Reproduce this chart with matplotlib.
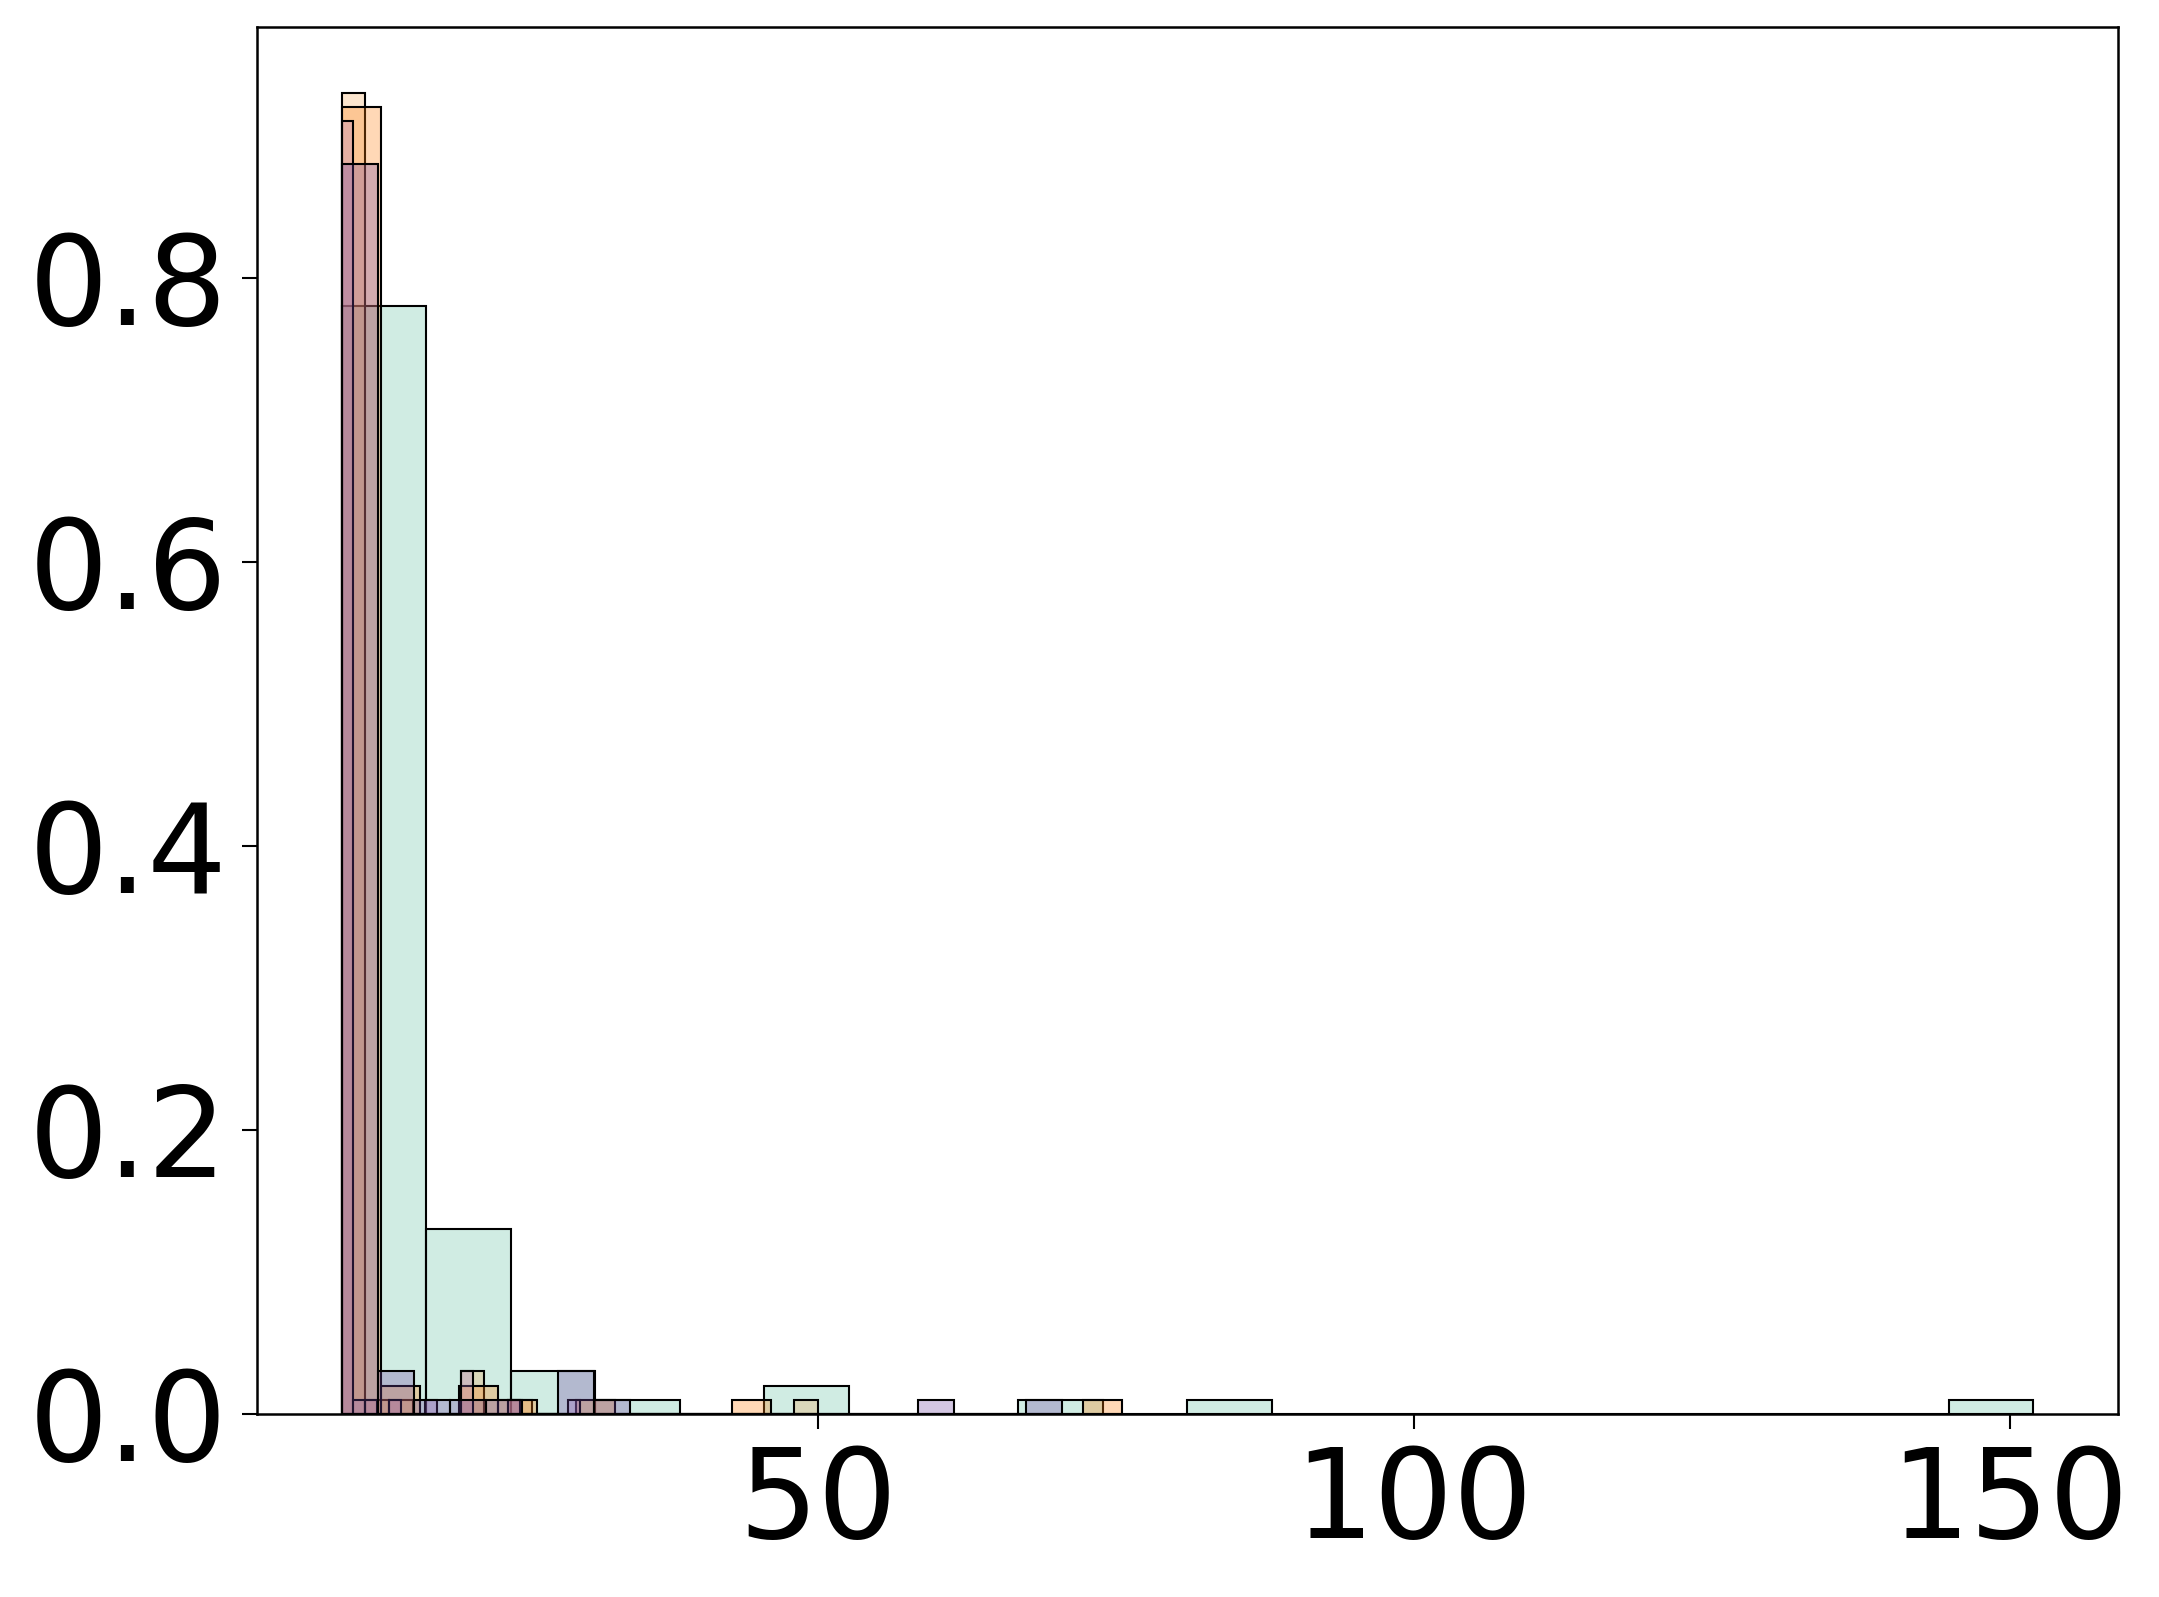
import numpy as np
import matplotlib
matplotlib.use("Agg")
import matplotlib.pyplot as plt
from matplotlib.colors import to_rgba

# histogram ranges (lo, hi) and bin probabilities, 20 bins each =================
t_range = (10, 152)
t_prob = [0.78, 0.13, 0.03, 0.01, 0, 0.02, 0, 0, 0.01, 0,
          0.01, 0, 0, 0, 0, 0, 0, 0, 0, 0.01]

a_range = (10, 50)
a_prob = [0.93, 0.01, 0.01, 0, 0, 0.03, 0, 0.01, 0, 0,
          0, 0, 0, 0, 0, 0, 0, 0, 0, 0.01]

b_range = (10, 75.5)
b_prob = [0.92, 0.02, 0, 0.02, 0.01, 0, 0.01, 0, 0, 0,
          0.01, 0, 0, 0, 0, 0, 0, 0, 0, 0.01]

c_range = (10, 30)
c_prob = [0.91, 0.01, 0.01, 0, 0.01, 0, 0, 0.01, 0, 0,
          0.03, 0, 0, 0, 0.01, 0, 0, 0, 0, 0.01]

d_range = (10, 70.5)
d_prob = [0.88, 0.03, 0.01, 0.01, 0.01, 0, 0.03, 0.01, 0, 0,
          0, 0, 0, 0, 0, 0, 0.01, 0, 0, 0.01]

series = [(t_range, t_prob, "#66c2a5"),
          (a_range, a_prob, "#f3a95e"),
          (b_range, b_prob, "#ff7f0e"),
          (c_range, c_prob, "#b07cc8"),
          (d_range, d_prob, "#7044a2")]

#plot ==========================================================================
plt.rcParams.update({"font.size": 30})
fig = plt.figure(figsize=(2159/300, 1597/300), dpi=300)
ax = fig.add_axes([0.119, 0.1146, 0.862, 0.8686])

for (lo, hi), prob, col in series:
    edges = np.linspace(lo, hi, len(prob) + 1)
    centers = 0.5*(edges[:-1] + edges[1:])
    ax.hist(centers, bins=edges, weights=prob,
            facecolor=to_rgba(col, 0.3), edgecolor="black", linewidth=0.5)

ax.set_xticks([50, 100, 150])
ax.set_yticks([0.0, 0.2, 0.4, 0.6, 0.8])
ax.tick_params(width=0.5, length=3.5)
for s in ax.spines.values():
    s.set_linewidth(0.6)

fig.savefig("out.png", dpi=300)
